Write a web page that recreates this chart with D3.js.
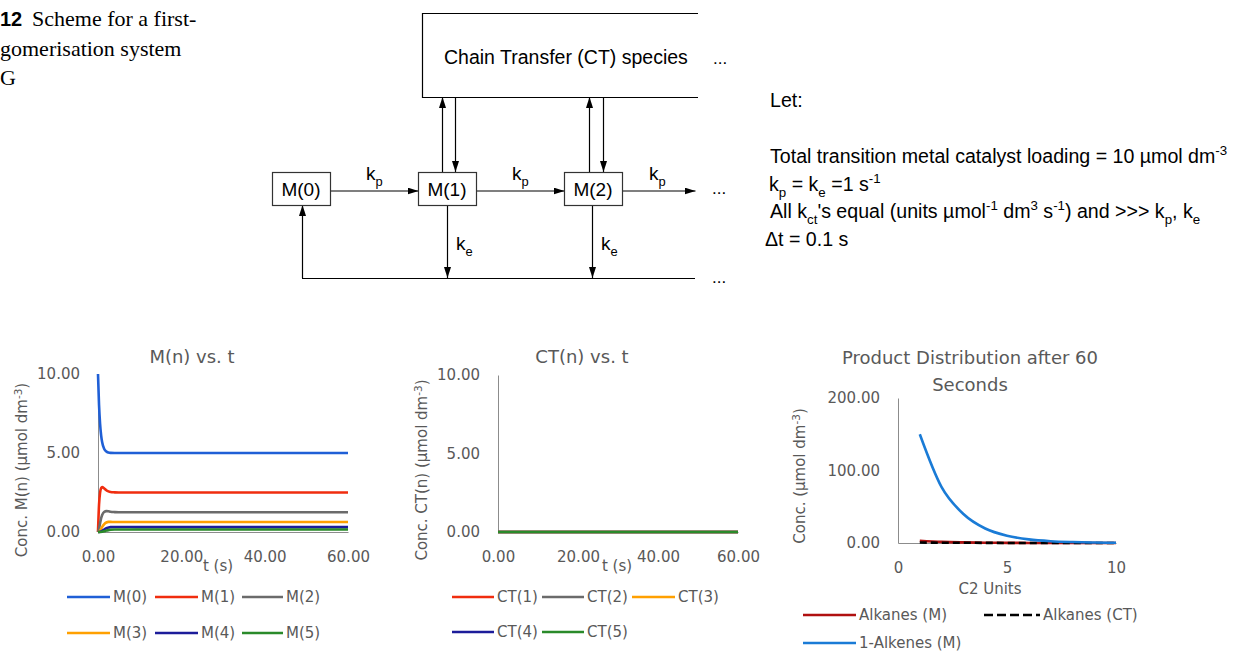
<!DOCTYPE html>
<html>
<head>
<meta charset="utf-8">
<script src="https://cdn.jsdelivr.net/npm/d3@7"></script>
<style>
  body { margin: 0; background: #fff; }
  svg { display: block; }
</style>
</head>
<body>
<svg id="fig"></svg>
<script>
// ---- data ----
// M(n) vs t
const tM = [0, 0.25, 0.5, 0.75, 1, 1.5, 2, 2.5, 3, 4, 5, 10, 60];
const M0 = [10, 8.03, 6.84, 6.12, 5.68, 5.25, 5.09, 5.03, 5.01, 5.0, 5.0, 5.0, 5.0];
const M1 = [0, 1.74, 2.5, 2.78, 2.84, 2.75, 2.64, 2.57, 2.53, 2.51, 2.5, 2.5, 2.5];
const M2 = [0, 0.21, 0.56, 0.87, 1.08, 1.28, 1.32, 1.31, 1.28, 1.26, 1.25, 1.25, 1.25];
const M3 = [0, 0.02, 0.09, 0.2, 0.32, 0.5, 0.6, 0.64, 0.64, 0.63, 0.63, 0.63, 0.63];
const M4 = [0, 0, 0.01, 0.03, 0.07, 0.16, 0.24, 0.28, 0.31, 0.32, 0.32, 0.31, 0.31];
const M5 = [0, 0, 0, 0.01, 0.02, 0.05, 0.09, 0.12, 0.14, 0.16, 0.16, 0.16, 0.16];
const mNames = ["M(0)", "M(1)", "M(2)", "M(3)", "M(4)", "M(5)"];

// CT(n) vs t (all stay at zero)
const tCT = [0, 60];
const CT1 = [0, 0];
const CT2 = [0, 0];
const CT3 = [0, 0];
const CT4 = [0, 0];
const CT5 = [0, 0];
const ctNames = ["CT(1)", "CT(2)", "CT(3)", "CT(4)", "CT(5)"];

// product distribution after 60 s
const c2Units = [1, 2, 3, 4, 5, 6, 7, 8, 9, 10];
const alkanesM = [3.0, 1.5, 0.8, 0.4, 0.2, 0.1, 0.05, 0.03, 0.01, 0.01];
const alkanesCT = [0.6, 0.4, 0.3, 0.2, 0.1, 0.1, 0.05, 0.02, 0.01, 0.0];
const alkenesM = [150, 77, 40, 20, 10, 5, 2.5, 1.3, 0.6, 0.3];
const prodNames = ["Alkanes (M)", "Alkanes (CT)", "1-Alkenes (M)"];

// tick labels
const tTicks = [0, 20, 40, 60];
const concTicks = [0, 5, 10];
const prodYTicks = [0, 100, 200];
const prodXTicks = [0, 5, 10];

const W = 1235, H = 653;
const svg = d3.select("#fig").attr("width", W).attr("height", H);

const sans = "'Liberation Sans', Arial, sans-serif";
const serif = "'Liberation Serif', 'Times New Roman', serif";
const chartFont = "'DejaVu Sans', sans-serif";
const grey = "#595959";

// text with sub/superscripts: parts = [[str, kind]]
function richText(g, x, y, parts, size, family) {
  const t = g.append("text").attr("x", x).attr("y", y)
    .attr("font-size", size).attr("font-family", family).attr("fill", "#000");
  let shift = 0;
  parts.forEach(([s, kind]) => {
    const target = kind === "sub" ? size * 0.3 : kind === "sup" ? -size * 0.4 : 0;
    t.append("tspan").attr("dy", target - shift)
      .attr("font-size", kind ? size * 0.68 : size).text(s);
    shift = target;
  });
  return t;
}

// ---- caption fragment top left ----
const cap = svg.append("g").attr("fill", "#000");
cap.append("text").attr("x", 0).attr("y", 26)
  .attr("font-family", sans).attr("font-weight", "bold").attr("font-size", 20).text("12");
cap.append("text").attr("x", 32).attr("y", 26)
  .attr("font-family", serif).attr("font-size", 22).text("Scheme for a first-");
cap.append("text").attr("x", 0).attr("y", 56)
  .attr("font-family", serif).attr("font-size", 22).text("gomerisation system");
cap.append("text").attr("x", 0).attr("y", 85)
  .attr("font-family", serif).attr("font-size", 22).text("G");

// ---- reaction scheme ----
svg.append("defs").append("marker")
  .attr("id", "arr").attr("viewBox", "0 0 11 7").attr("refX", 11).attr("refY", 3.5)
  .attr("markerWidth", 11).attr("markerHeight", 7).attr("markerUnits", "userSpaceOnUse")
  .attr("orient", "auto")
  .append("path").attr("d", "M0,0L11,3.5L0,7z").attr("fill", "#000");

const dg = svg.append("g").attr("font-family", sans);
dg.append("path").attr("d", "M698,13.5H422.5V97.5H698")
  .attr("fill", "none").attr("stroke", "#000").attr("stroke-width", 1.2);
dg.append("text").attr("x", 444).attr("y", 64).attr("font-size", 19.5).text("Chain Transfer (CT) species");

const arrows = [
  [330, 191, 418, 191], [476, 191, 564, 191], [622, 191, 695, 191],
  [442, 172, 442, 97], [455, 97, 455, 172], [589, 172, 589, 97], [603, 97, 603, 172],
  [447, 205, 447, 278], [592, 205, 592, 278], [302, 278, 302, 205]
];
dg.selectAll("line.arrow").data(arrows).enter().append("line").attr("class", "arrow")
  .attr("x1", d => d[0] + 0.5).attr("y1", d => d[1]).attr("x2", d => d[2] + 0.5).attr("y2", d => d[3])
  .attr("stroke", "#000").attr("stroke-width", 1.2).attr("marker-end", "url(#arr)");
dg.append("line").attr("x1", 302).attr("x2", 695).attr("y1", 278.5).attr("y2", 278.5)
  .attr("stroke", "#000").attr("stroke-width", 1.2);

const boxes = [["M(0)", 272], ["M(1)", 418], ["M(2)", 564]];
boxes.forEach(([lab, bx]) => {
  dg.append("rect").attr("x", bx + 0.5).attr("y", 172.5).attr("width", 58).attr("height", 33)
    .attr("fill", "#fff").attr("stroke", "#333").attr("stroke-width", 1.2);
  dg.append("text").attr("x", bx + 29).attr("y", 196).attr("text-anchor", "middle")
    .attr("font-size", 19).text(lab);
});
[366, 512, 649].forEach(kx => richText(dg, kx, 180, [["k"], ["p", "sub"]], 19, sans));
[456, 601].forEach(kx => richText(dg, kx, 250, [["k"], ["e", "sub"]], 19, sans));
[[713, 64], [712, 194], [712, 283]].forEach(([dx, dy]) =>
  dg.append("text").attr("x", dx).attr("y", dy).attr("font-size", 17).text("..."));

// ---- conditions text ----
const tg = svg.append("g");
richText(tg, 770, 107, [["Let:"]], 19.6, sans);
richText(tg, 770, 163, [["Total transition metal catalyst loading = 10 \u00b5mol dm"], ["-3", "sup"]], 19.6, sans);
richText(tg, 769, 191, [["k"], ["p", "sub"], [" = k"], ["e", "sub"], [" =1 s"], ["-1", "sup"]], 19.6, sans);
richText(tg, 770, 218, [["All k"], ["ct", "sub"], ["'s equal (units \u00b5mol"], ["-1", "sup"], [" dm"], ["3", "sup"],
  [" s"], ["-1", "sup"], [") and >>> k"], ["p", "sub"], [", k"], ["e", "sub"]], 19.6, sans);
richText(tg, 765, 246, [["\u0394t = 0.1 s"]], 19.6, sans);

// ---- line charts ----
function drawChart(o) {
  const g = svg.append("g").attr("font-family", chartFont);
  const x = d3.scaleLinear().domain(o.xDomain).range([o.left, o.right]);
  const y = d3.scaleLinear().domain(o.yDomain).range([o.bottom, o.top]);

  const ya = g.append("g").attr("transform", `translate(${o.left},0)`)
    .call(d3.axisLeft(y).tickValues(o.yTicks).tickSize(0).tickPadding(18).tickFormat(d3.format(".2f")));
  const xa = g.append("g").attr("transform", `translate(0,${o.bottom})`)
    .call(d3.axisBottom(x).tickValues(o.xTicks).tickSize(0).tickPadding(19).tickFormat(o.xFormat));
  [ya, xa].forEach(a => {
    a.select(".domain").attr("stroke", "#8c8c8c").attr("stroke-width", 1);
    a.selectAll("text").attr("font-size", 15).attr("fill", grey).attr("font-family", chartFont);
  });

  const line = d3.line().curve(d3.curveMonotoneX);
  o.series.forEach(s => {
    g.append("path")
      .attr("d", line(s.values.map((v, i) => [x(o.xs[i]), y(v)])))
      .attr("fill", "none").attr("stroke", s.color).attr("stroke-width", 2.6)
      .attr("stroke-dasharray", s.dash || null);
  });

  o.title.forEach((t, i) => g.append("text").attr("x", o.titleX).attr("y", o.titleY + i * 27)
    .attr("text-anchor", "middle").attr("font-size", 18).attr("fill", grey).text(t));
  g.append("text").attr("x", o.xLabelX).attr("y", o.xLabelY).attr("text-anchor", "middle")
    .attr("font-size", 15).attr("fill", grey).text(o.xLabel);
  const yl = g.append("text").attr("transform", `translate(${o.yLabelX},${o.yLabelY}) rotate(-90)`)
    .attr("text-anchor", "middle").attr("font-size", 15).attr("fill", grey);
  yl.append("tspan").text(o.yLabel);
  yl.append("tspan").attr("dy", -5).attr("font-size", 10.5).text("-3");
  yl.append("tspan").attr("dy", 5).text(")");

  o.series.forEach((s, i) => {
    const col = i % o.legCols.length, row = Math.floor(i / o.legCols.length);
    const lx = o.legCols[col], ly = o.legRows[row], lw = o.legW[col];
    g.append("line").attr("x1", lx).attr("x2", lx + lw).attr("y1", ly).attr("y2", ly)
      .attr("stroke", s.color).attr("stroke-width", 2.6).attr("stroke-dasharray", s.legDash || null);
    g.append("text").attr("x", lx + lw + 3).attr("y", ly).attr("dy", "0.35em")
      .attr("font-size", 15).attr("fill", grey).text(s.name);
  });
}

const mColors = ["#1f5fd6", "#f02d0f", "#6b6b6b", "#ffa000", "#1c1c9a", "#2a8a2a"];
drawChart({
  left: 98, right: 348, top: 374, bottom: 532,
  xDomain: [0, 60], yDomain: [0, 10], xTicks: tTicks, yTicks: concTicks,
  xFormat: d3.format(".2f"), xs: tM,
  series: [M0, M1, M2, M3, M4, M5].map((v, i) => ({ name: mNames[i], values: v, color: mColors[i] })),
  title: ["M(n) vs. t"], titleX: 192, titleY: 363,
  xLabel: "t (s)", xLabelX: 218, xLabelY: 571,
  yLabel: "Conc. M(n) (\u00b5mol dm", yLabelX: 27, yLabelY: 470,
  legCols: [67, 155, 242], legRows: [597, 633], legW: [43, 43, 41]
});

const ctColors = ["#f02d0f", "#6b6b6b", "#ffa000", "#1c1c9a", "#2a8a2a"];
drawChart({
  left: 498, right: 738, top: 375, bottom: 532,
  xDomain: [0, 60], yDomain: [0, 10], xTicks: tTicks, yTicks: concTicks,
  xFormat: d3.format(".2f"), xs: tCT,
  series: [CT1, CT2, CT3, CT4, CT5].map((v, i) => ({ name: ctNames[i], values: v, color: ctColors[i] })),
  title: ["CT(n) vs. t"], titleX: 582, titleY: 363,
  xLabel: "t (s)", xLabelX: 617, xLabelY: 571,
  yLabel: "Conc. CT(n) (\u00b5mol dm", yLabelX: 427, yLabelY: 470,
  legCols: [452, 542, 632], legRows: [597, 632], legW: [42, 42, 43]
});

drawChart({
  left: 898, right: 1116, top: 398, bottom: 543,
  xDomain: [0, 10], yDomain: [0, 200], xTicks: prodXTicks, yTicks: prodYTicks,
  xFormat: d3.format("d"), xs: c2Units,
  series: [
    { name: prodNames[0], values: alkanesM, color: "#b01010" },
    { name: prodNames[1], values: alkanesCT, color: "#000", dash: "7,4", legDash: "9,4" },
    { name: prodNames[2], values: alkenesM, color: "#1a7bd6" }
  ],
  title: ["Product Distribution after 60", "Seconds"], titleX: 970, titleY: 364,
  xLabel: "C2 Units", xLabelX: 990, xLabelY: 594,
  yLabel: "Conc. (\u00b5mol dm", yLabelX: 805, yLabelY: 476,
  legCols: [803, 984], legRows: [615, 643], legW: [53, 56]
});
</script>
</body>
</html>
